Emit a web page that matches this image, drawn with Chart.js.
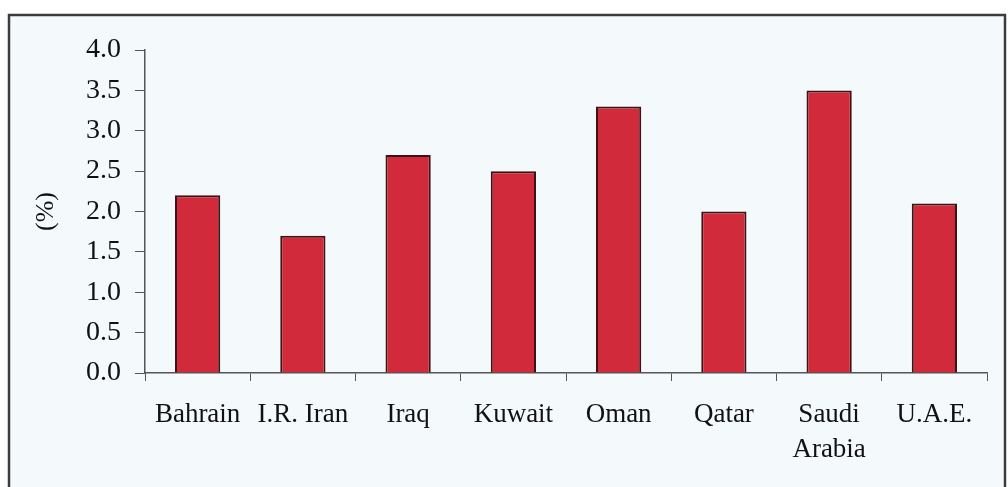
<!DOCTYPE html>
<html>
<head>
<meta charset="utf-8">
<script src="https://cdn.jsdelivr.net/npm/chart.js@4/dist/chart.umd.min.js"></script>
<style>
  html, body { margin: 0; padding: 0; background: #fff; }
  #wrap { width: 1008px; height: 487px; position: relative; }
</style>
</head>
<body>
<div id="wrap"><canvas id="chart" width="1008" height="487"></canvas></div>
<script>
// Data
const countries = ['Bahrain', 'I.R. Iran', 'Iraq', 'Kuwait', 'Oman', 'Qatar', ['Saudi', 'Arabia'], 'U.A.E.'];
const rates = [2.2, 1.7, 2.7, 2.5, 3.3, 2.0, 3.5, 2.1];
const yTicks = [0, 0.5, 1, 1.5, 2, 2.5, 3, 3.5, 4];

const serif = "'Liberation Serif', 'Times New Roman', serif";

// paper background + frame around the chart (bottom edge runs off the page)
const framePlugin = {
  id: 'frame',
  beforeDraw(chart) {
    const c = chart.ctx;
    c.save();
    c.fillStyle = '#f4f9fc';
    c.fillRect(9, 15, 996, 480);
    c.strokeStyle = '#3c3c3c';
    c.lineWidth = 2.5;
    c.strokeRect(9, 15, 996, 480);
    c.restore();
  }
};

new Chart(document.getElementById('chart'), {
  type: 'bar',
  data: {
    labels: countries,
    datasets: [{
      data: rates,
      backgroundColor: '#d12b3b',
      borderColor: '#3a1416',
      borderWidth: 2,
      barPercentage: 0.43,
      categoryPercentage: 1,
    }]
  },
  options: {
    responsive: false,
    animation: false,
    layout: { padding: { top: 50, right: 21, left: 0, bottom: 0 } },
    plugins: { legend: { display: false }, tooltip: { enabled: false } },
    scales: {
      x: {
        offset: true,
        grid: { offset: true, drawOnChartArea: false, tickLength: 8, color: '#555' },
        border: { color: '#555', width: 1.5 },
        ticks: {
          color: '#111', padding: 16, maxRotation: 0, autoSkip: false,
          font: { family: serif, size: 27, lineHeight: 1.3 }
        },
        afterFit(scale) { scale.height = 114; }
      },
      y: {
        min: 0, max: 4,
        afterBuildTicks(scale) { scale.ticks = yTicks.map(v => ({ value: v })); },
        grid: { drawOnChartArea: false, tickLength: 10, color: '#555' },
        border: { color: '#555', width: 1.5 },
        ticks: {
          color: '#111', padding: 14,
          font: { family: serif, size: 28 },
          callback: v => Number(v).toFixed(1)
        },
        title: {
          display: true, text: '(%)', color: '#111',
          font: { family: serif, size: 26 }, padding: { top: 31 }
        },
        afterFit(scale) { scale.width = 145; }
      }
    }
  },
  plugins: [framePlugin]
});
</script>
</body>
</html>
